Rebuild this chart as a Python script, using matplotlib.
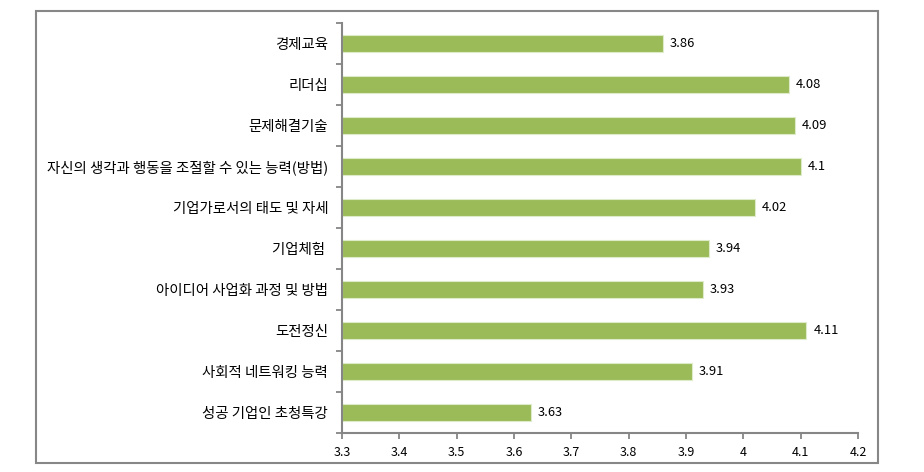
import matplotlib
matplotlib.use("Agg")
import matplotlib.pyplot as plt
from matplotlib.patches import Rectangle

plt.rcParams['font.family'] = ['Noto Sans CJK KR', 'DejaVu Sans']

categories = ["경제교육", "리더십", "문제해결기술", "자신의 생각과 행동을 조절할 수 있는 능력(방법)",
              "기업가로서의 태도 및 자세", "기업체험 ", "아이디어 사업화 과정 및 방법", "도전정신",
              "사회적 네트워킹 능력", "성공 기업인 초청특강"]
values = [3.86, 4.08, 4.09, 4.1, 4.02, 3.94, 3.93, 4.11, 3.91, 3.63]
value_labels = ["3.86", "4.08", "4.09", "4.1", "4.02", "3.94", "3.93", "4.11", "3.91", "3.63"]
xticks = [3.3, 3.4, 3.5, 3.6, 3.7, 3.8, 3.9, 4.0, 4.1, 4.2]
xtick_labels = ["3.3", "3.4", "3.5", "3.6", "3.7", "3.8", "3.9", "4", "4.1", "4.2"]

W, H = 924, 472
fig = plt.figure(figsize=(W / 100, H / 100), dpi=100)
ax = fig.add_axes([342 / W, 1 - 433 / H, (858 - 342) / W, (433 - 23) / H])

# outer chart border
fig.patches.append(Rectangle((36 / W, 1 - 463 / H), (878 - 36) / W, (463 - 11) / H,
                             transform=fig.transFigure, fill=False,
                             edgecolor="#878787", linewidth=1.5))

ypos = list(range(len(categories)))
bars = ax.barh(ypos, [v - 3.3 for v in values], left=3.3, height=0.42,
               color="#9BBB59", edgecolor="#DDEBC8", linewidth=0.8)

for y, v, lab in zip(ypos, values, value_labels):
    ax.annotate(lab, (v, y), xytext=(5, 0), textcoords="offset points",
                va="center", ha="left", fontsize=9.3, color="#000000")

ax.set_xlim(3.3, 4.2)
ax.set_ylim(len(categories) - 0.5, -0.5)
ax.set_xticks(xticks)
ax.set_xticklabels(xtick_labels, fontsize=9)
ax.set_yticks([y - 0.5 for y in ypos] + [len(categories) - 0.5])
ax.set_yticklabels([])
ax.set_yticks(ypos, minor=True)
ax.set_yticklabels(categories, minor=True, fontsize=10.4)
ax.tick_params(axis="y", which="minor", length=0, pad=10)
ax.tick_params(axis="y", which="major", length=4, color="#868686", width=1.3)
ax.tick_params(axis="x", length=4, color="#868686", width=1.3, pad=5)

for s in ["top", "right"]:
    ax.spines[s].set_visible(False)
for s in ["left", "bottom"]:
    ax.spines[s].set_color("#868686")
    ax.spines[s].set_linewidth(1.5)

fig.savefig("out.png", dpi=100)
